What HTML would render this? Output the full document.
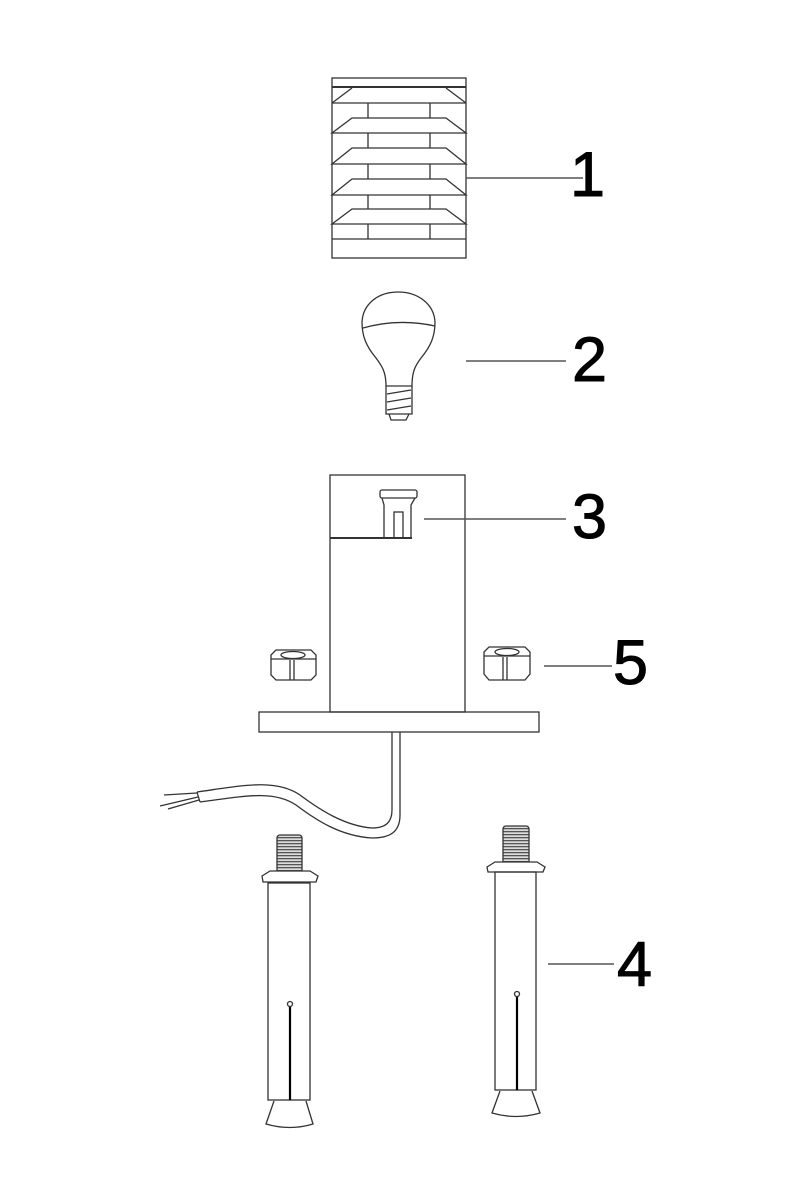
<!DOCTYPE html>
<html><head><meta charset="utf-8"><style>
html,body{margin:0;padding:0;background:#fff;}
svg{display:block;}
text{font-family:"Liberation Sans",sans-serif;font-size:63px;fill:#000;stroke:#000;stroke-width:1;}
</style></head><body>
<svg width="800" height="1200" viewBox="0 0 800 1200" xmlns="http://www.w3.org/2000/svg">
<defs>
<pattern id="th" width="4" height="3" patternUnits="userSpaceOnUse">
<rect width="4" height="3" fill="#ddd"/><rect width="4" height="1.3" fill="#555"/>
</pattern>
</defs>
<g fill="none" stroke="#333" stroke-width="1.3">
<!-- louver -->
<rect x="332" y="78" width="134" height="180"/>
<line x1="332" y1="87" x2="466" y2="87" stroke-width="2"/>
<line x1="352" y1="88" x2="332" y2="103"/><line x1="446" y1="88" x2="466" y2="103"/>
<line x1="332" y1="103" x2="466" y2="103"/>
<path d="M332 133 L352 118 L446 118 L466 133 Z"/>
<path d="M332 164 L352 148 L446 148 L466 164 Z"/>
<path d="M332 195 L352 179 L446 179 L466 195 Z"/>
<path d="M332 224 L352 209 L446 209 L466 224 Z"/>
<line x1="332" y1="239" x2="466" y2="239"/>
<path d="M368 103V118M430 103V118M368 133V148M430 133V148M368 164V179M430 164V179M368 195V209M430 195V209M368 224V239M430 224V239"/>
<!-- bulb -->
<path d="M386 386 C386 372 382 366 376 358 C366 346 362 336 362 322 C363 304 378 292 398 292 C418 292 434 304 435 322 C435 336 431 346 421 358 C415 366 412 372 412 386 Z"/>
<path d="M363 328 Q398 318 435 326"/>
<path d="M386 386 V414 H412 V386"/>
<path d="M387 394 L411 390 M387 402 L411 398 M387 410 L411 406"/>
<path d="M389 414 L391 420 H406 L409 414"/>
<!-- housing -->
<rect x="330" y="475" width="135" height="237"/>
<line x1="330" y1="538" x2="412" y2="538" stroke-width="2"/>
<rect x="380" y="490" width="37" height="8" rx="2"/>
<path d="M382 498 L384 505 V538 H411 V505 L415 498"/>
<rect x="394" y="512" width="9" height="26"/>
<rect x="259" y="712" width="280" height="20"/>
<!-- nuts -->
<path d="M271 655 L276 650 H311 L316 655 V675 L311 680 H276 L271 675 Z"/>
<ellipse cx="293" cy="655" rx="12" ry="3.5"/>
<line x1="271" y1="659" x2="316" y2="659"/>
<path d="M290 660V680M294 660V680"/>
<path d="M484 652 L489 647 H525 L530 652 V674 L525 680 H489 L484 674 Z"/>
<ellipse cx="507" cy="652" rx="12" ry="3.5"/>
<line x1="484" y1="656" x2="530" y2="656"/>
<path d="M503 657V680M507 657V680"/>
<!-- cable -->
<path d="M392 732 V810 C392 822 386 828 372 828 C345 826 320 810 300 795 C275 778 240 786 197 792"/>
<path d="M400 732 V815 C400 832 390 838 372 838 C340 836 316 820 296 805 C274 790 245 796 200 802"/>
<path d="M197 792 L200 802"/>
<path d="M197 793 L164 795 M198 797 L160 806 M199 800 L168 809"/>
<!-- anchor left -->
<rect x="277" y="835" width="25" height="40" rx="3" fill="url(#th)"/>
<path d="M262 876 L270 871 H310 L318 876 L316 882 H263 Z" fill="#fff"/>
<rect x="268" y="883" width="42" height="217"/>
<line x1="290" y1="1007" x2="290" y2="1100" stroke-width="2.2" stroke="#000"/>
<circle cx="290" cy="1004" r="2.5"/>
<path d="M274 1101 L266 1124 Q290 1131 313 1124 L306 1101"/>
<!-- anchor right -->
<rect x="503" y="826" width="26" height="40" rx="3" fill="url(#th)"/>
<path d="M487 867 L495 862 H537 L545 867 L543 872 H488 Z" fill="#fff"/>
<rect x="495" y="872" width="41" height="218"/>
<line x1="517" y1="997" x2="517" y2="1090" stroke-width="2.2" stroke="#000"/>
<circle cx="517" cy="994" r="2.5"/>
<path d="M500 1091 L492 1113 Q516 1120 540 1113 L532 1091"/>
</g>
<!-- leaders -->
<g stroke="#555" stroke-width="1.5">
<line x1="466" y1="178" x2="583" y2="178"/>
<line x1="466" y1="361" x2="566" y2="361"/>
<line x1="424" y1="519" x2="566" y2="519"/>
<line x1="544" y1="666" x2="612" y2="666"/>
<line x1="548" y1="964" x2="614" y2="964"/>
</g>
<text x="570" y="196">1</text>
<text x="572" y="381">2</text>
<text x="572" y="538">3</text>
<text x="613" y="684">5</text>
<text x="617" y="986">4</text>
</svg>
</body></html>
